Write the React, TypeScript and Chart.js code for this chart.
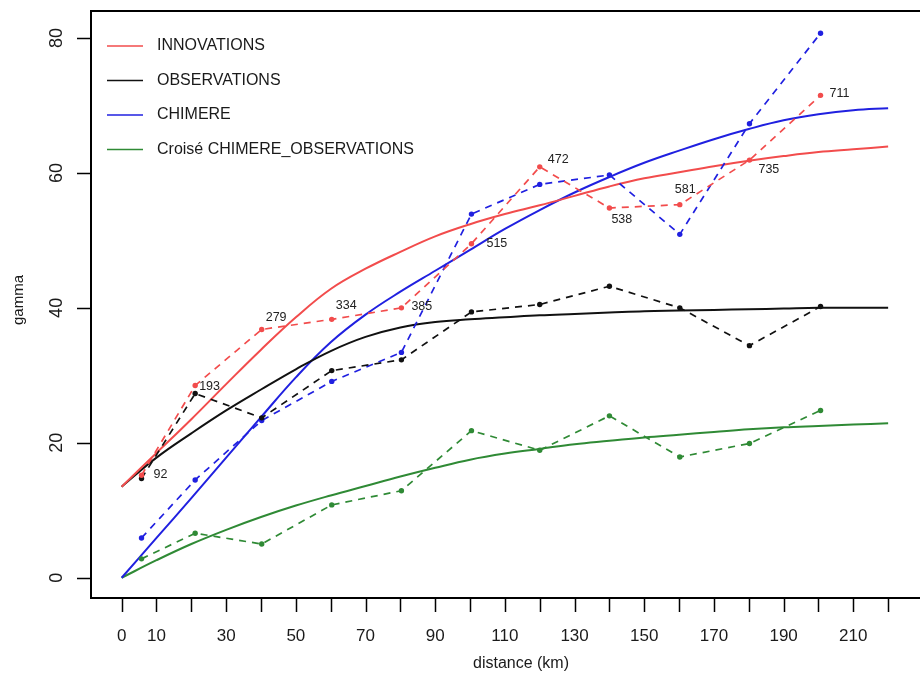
import React, { useEffect, useRef } from 'react';
import { Chart, registerables } from 'chart.js';

Chart.register(...registerables);

// ---- Data ----
const lagDistances = [5.7, 21.1, 40.2, 60.3, 80.3, 100.4, 120, 140, 160.2, 180.2, 200.6];
const innovationsObs = [15.2, 28.5, 36.8, 38.3, 40.0, 49.5, 60.9, 54.8, 55.3, 61.9, 71.5];
const observationsObs = [14.7, 27.3, 23.7, 30.7, 32.3, 39.4, 40.5, 43.2, 40.0, 34.4, 40.2];
const chimereObs = [5.9, 14.5, 23.3, 29.1, 33.4, 53.9, 58.3, 59.7, 50.9, 67.3, 80.7];
const croiseObs = [2.8, 6.6, 5.0, 10.8, 12.9, 21.8, 18.9, 24.0, 17.9, 19.9, 24.8];
const pairCounts = ['92', '193', '279', '334', '385', '515', '472', '538', '581', '735', '711'];

const modelDistances = [0, 10, 20, 30, 40, 50, 60, 70, 80, 90, 100, 110, 120, 130, 140, 150, 160, 170, 180, 190, 200, 210, 220];
const innovationsModel = [13.5, 18.5, 23.5, 28.7, 33.8, 38.6, 42.8, 45.8, 48.3, 50.6, 52.4, 53.9, 55.2, 56.6, 58.0, 59.2, 60.1, 61.0, 61.8, 62.5, 63.1, 63.5, 63.9];
const observationsModel = [13.5, 17.8, 21.4, 24.8, 27.9, 30.9, 33.6, 35.7, 37.1, 37.9, 38.3, 38.6, 38.9, 39.1, 39.3, 39.5, 39.6, 39.7, 39.8, 39.9, 40.0, 40.0, 40.0];
const chimereModel = [0, 5.9, 11.8, 17.8, 23.8, 29.7, 34.9, 39.0, 42.4, 45.5, 48.6, 51.7, 54.5, 57.1, 59.4, 61.5, 63.3, 65.0, 66.5, 67.8, 68.7, 69.3, 69.6];
const croiseModel = [0, 2.6, 5.0, 7.1, 9.0, 10.7, 12.2, 13.6, 15.0, 16.3, 17.5, 18.4, 19.1, 19.8, 20.3, 20.8, 21.2, 21.6, 22.0, 22.3, 22.5, 22.7, 22.9];

const seriesNames = ['INNOVATIONS', 'OBSERVATIONS', 'CHIMERE', 'Croisé CHIMERE_OBSERVATIONS'];

const xTickValues = [0, 10, 20, 30, 40, 50, 60, 70, 80, 90, 100, 110, 120, 130, 140, 150, 160, 170, 180, 190, 200, 210, 220];
const xTickLabelValues = [0, 10, 30, 50, 70, 90, 110, 130, 150, 170, 190, 210];
const yTickValues = [0, 20, 40, 60, 80];
const xTitle = 'distance (km)';
const yTitle = 'gamma';

// ---- Styles ----
const COLORS = ['#f24c4c', '#111111', '#2020e0', '#2f8a35'];
const FONT = '"Liberation Sans", Arial, Helvetica, sans-serif';
const labelOffsets: [number, number][] = [
  [12, -1], [4, 1], [4, -12], [4, -14], [10, -1], [15, 0], [8, -7], [2, 12], [-5, -15], [9, 9], [9, -2],
];

function pts(xs: number[], ys: number[]) {
  return xs.map((x, i) => ({ x, y: ys[i] }));
}

const rPlotPlugin = {
  id: 'rPlot',
  afterDatasetsDraw(chart: any) {
    const { ctx, chartArea } = chart;
    const xs = chart.scales.x;
    const ys = chart.scales.y;
    const W = chart.width;
    ctx.save();

    // point labels (pair counts) next to the INNOVATIONS points
    ctx.fillStyle = '#222';
    ctx.font = `12.5px ${FONT}`;
    ctx.textAlign = 'left';
    ctx.textBaseline = 'middle';
    pairCounts.forEach((lab, i) => {
      const px = xs.getPixelForValue(lagDistances[i]);
      const py = ys.getPixelForValue(innovationsObs[i]);
      const [dx, dy] = labelOffsets[i];
      ctx.fillText(lab, px + dx, py + dy);
    });

    // box (left, top, bottom)
    ctx.strokeStyle = '#000';
    ctx.lineWidth = 2;
    ctx.beginPath();
    ctx.moveTo(W + 2, chartArea.top);
    ctx.lineTo(chartArea.left, chartArea.top);
    ctx.lineTo(chartArea.left, chartArea.bottom);
    ctx.lineTo(W + 2, chartArea.bottom);
    ctx.stroke();

    // x axis ticks
    ctx.lineWidth = 1.5;
    ctx.beginPath();
    xTickValues.forEach((v) => {
      const px = Math.round(xs.getPixelForValue(v)) + 0.5;
      ctx.moveTo(px, chartArea.bottom);
      ctx.lineTo(px, chartArea.bottom + 14);
    });
    ctx.stroke();
    ctx.fillStyle = '#1a1a1a';
    ctx.font = `17px ${FONT}`;
    ctx.textAlign = 'center';
    ctx.textBaseline = 'middle';
    xTickLabelValues.forEach((v) => {
      ctx.fillText(String(v), xs.getPixelForValue(v), chartArea.bottom + 38);
    });
    ctx.font = `16px ${FONT}`;
    ctx.fillText(xTitle, 521, chartArea.bottom + 66);

    // y axis ticks
    ctx.beginPath();
    yTickValues.forEach((v) => {
      const py = Math.round(ys.getPixelForValue(v)) + 0.5;
      ctx.moveTo(chartArea.left, py);
      ctx.lineTo(chartArea.left - 14, py);
    });
    ctx.stroke();
    ctx.font = `18px ${FONT}`;
    yTickValues.forEach((v) => {
      const py = ys.getPixelForValue(v);
      ctx.save();
      ctx.translate(57, py);
      ctx.rotate(-Math.PI / 2);
      ctx.fillText(String(v), 0, 0);
      ctx.restore();
    });
    ctx.save();
    ctx.translate(19, 300);
    ctx.rotate(-Math.PI / 2);
    ctx.font = `15px ${FONT}`;
    ctx.fillText(yTitle, 0, 0);
    ctx.restore();

    // legend
    ctx.textAlign = 'left';
    ctx.font = `16px ${FONT}`;
    seriesNames.forEach((name, i) => {
      const y = 46 + i * 34.5;
      ctx.strokeStyle = COLORS[i];
      ctx.lineWidth = 1.5;
      ctx.beginPath();
      ctx.moveTo(107, y);
      ctx.lineTo(143, y);
      ctx.stroke();
      ctx.fillStyle = '#1a1a1a';
      ctx.fillText(name, 157, y);
    });

    ctx.restore();
  },
};

export default function App() {
  const canvasRef = useRef<HTMLCanvasElement | null>(null);

  useEffect(() => {
    const canvas = canvasRef.current;
    if (!canvas) return;
    const obsSets = [innovationsObs, observationsObs, chimereObs, croiseObs];
    const modelSets = [innovationsModel, observationsModel, chimereModel, croiseModel];

    const datasets: any[] = [];
    obsSets.forEach((ys, i) => {
      datasets.push({
        label: seriesNames[i] + ' (observé)',
        data: pts(lagDistances, ys),
        borderColor: COLORS[i],
        backgroundColor: COLORS[i],
        borderWidth: 1.7,
        borderDash: [7, 6],
        pointRadius: 2.7,
        pointBorderWidth: 0,
        pointBackgroundColor: COLORS[i],
        tension: 0,
        fill: false,
      });
    });
    modelSets.forEach((ys, i) => {
      datasets.push({
        label: seriesNames[i],
        data: pts(modelDistances, ys),
        borderColor: COLORS[i],
        backgroundColor: COLORS[i],
        borderWidth: 2,
        pointRadius: 0,
        tension: 0.4,
        fill: false,
      });
    });

    const chart = new Chart(canvas, {
      type: 'line',
      data: { datasets },
      options: {
        animation: false,
        responsive: false,
        devicePixelRatio: 1,
        layout: { padding: { left: 91, top: 11, right: 0, bottom: 78 } },
        scales: {
          x: { type: 'linear', min: -8.8, max: 228, display: false },
          y: { type: 'linear', min: -3, max: 84, display: false },
        },
        plugins: {
          legend: { display: false },
          tooltip: { enabled: false },
          title: { display: false },
        },
        events: [],
      },
      plugins: [rPlotPlugin],
    });
    return () => chart.destroy();
  }, []);

  return (
    <div style={{ position: 'fixed', left: 0, top: 0, width: 920, height: 676, background: '#fff', overflow: 'hidden' }}>
      <canvas ref={canvasRef} width={920} height={676} style={{ display: 'block', width: 920, height: 676 }} />
    </div>
  );
}
